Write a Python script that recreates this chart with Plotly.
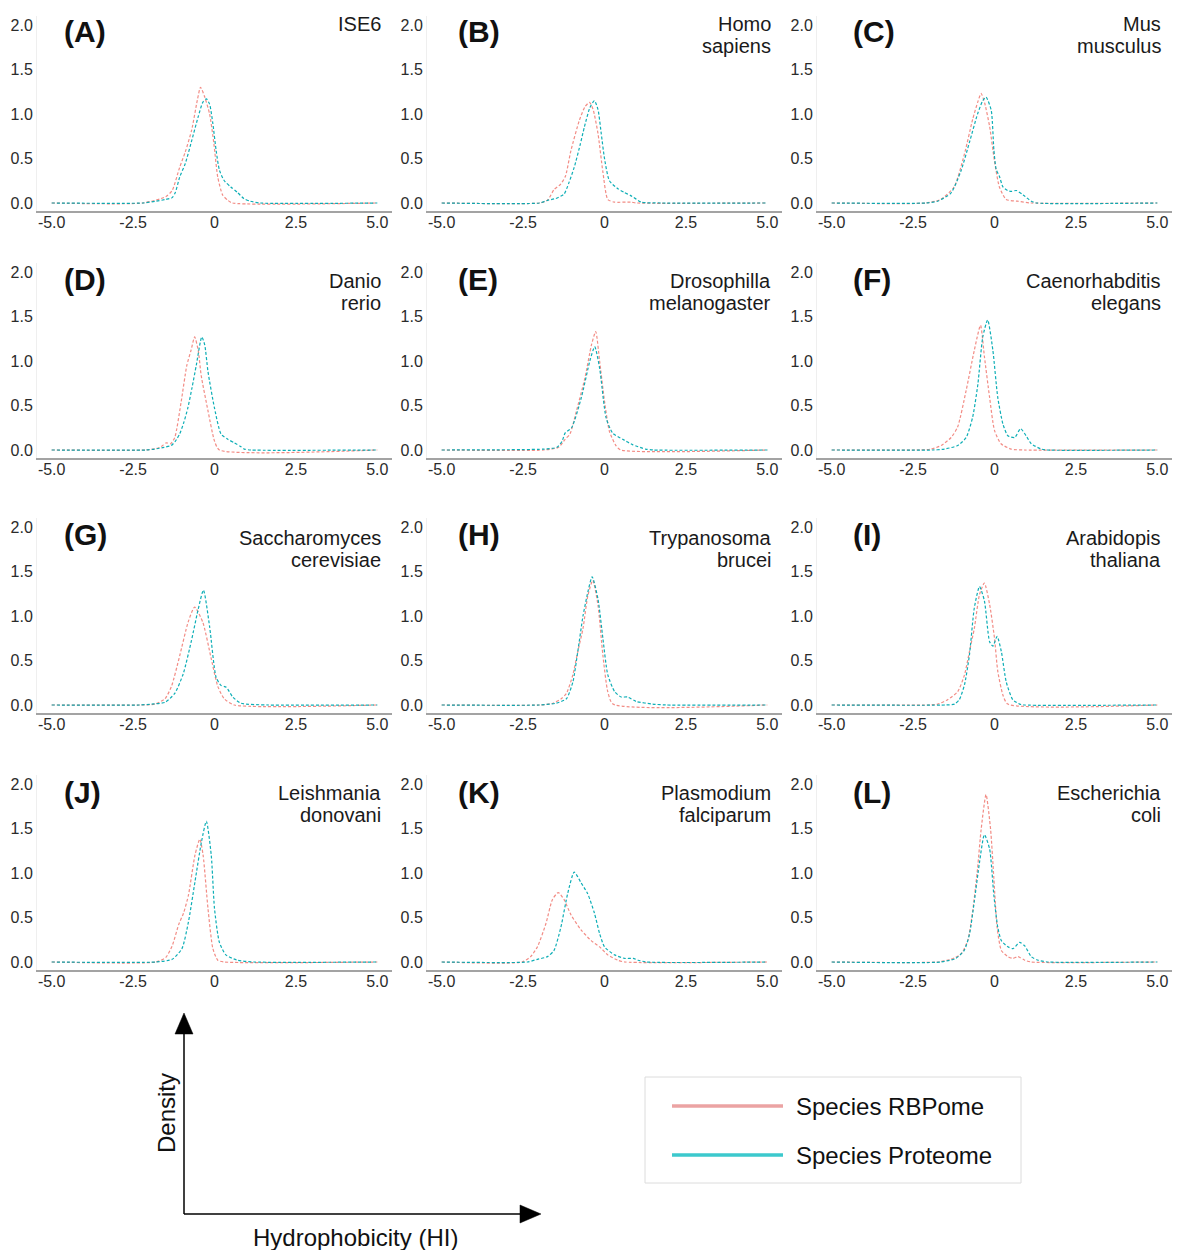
import plotly.graph_objects as go

# ---------------------------------------------------------------------------
# Density of the hydrophobicity index (HI) per species:
# RNA-binding proteome (RBPome) vs. whole proteome.
# ---------------------------------------------------------------------------
PANEL_TAGS = ["(A)", "(B)", "(C)", "(D)", "(E)", "(F)",
              "(G)", "(H)", "(I)", "(J)", "(K)", "(L)"]

SPECIES = ["ISE6", "Homo sapiens", "Mus musculus",
           "Danio rerio", "Drosophilla melanogaster", "Caenorhabditis elegans",
           "Saccharomyces cerevisiae", "Trypanosoma brucei", "Arabidopis thaliana",
           "Leishmania donovani", "Plasmodium falciparum", "Escherichia coli"]

X_TICKS = [-5.0, -2.5, 0.0, 2.5, 5.0]
X_TICK_TEXT = ["-5.0", "-2.5", "0", "2.5", "5.0"]
Y_TICKS = [0.0, 0.5, 1.0, 1.5, 2.0]
Y_TICK_TEXT = ["0.0", "0.5", "1.0", "1.5", "2.0"]

SERIES_NAMES = ["Species RBPome", "Species Proteome"]

# HI values and densities of the RBPome curves (one list per panel, A..L)
RBPOME_HI = [
    [-5, -2.2, -1.5, -1.3, -1.07, -0.9, -0.7, -0.53, -0.43, -0.3, -0.15, -0.02, 0.1, 0.25, 0.41, 0.55, 5],
    [-5, -2.0, -1.75, -1.55, -1.35, -1.2, -1.03, -0.77, -0.6, -0.46, -0.35, -0.2, -0.05, 0.1, 0.3, 0.8, 1.0, 5],
    [-5, -2.1, -1.65, -1.24, -0.93, -0.67, -0.5, -0.41, -0.3, -0.15, 0.0, 0.15, 0.36, 0.7, 1.13, 5],
    [-5, -2.1, -1.75, -1.63, -1.48, -1.35, -1.22, -1.02, -0.85, -0.72, -0.61, -0.5, -0.41, -0.2, 0.0, 0.15, 5],
    [-5, -1.87, -1.41, -1.21, -1.06, -0.86, -0.6, -0.4, -0.27, -0.15, 0.0, 0.15, 0.35, 0.5, 5],
    [-5, -2.4, -1.95, -1.64, -1.33, -1.13, -0.87, -0.62, -0.43, -0.31, -0.15, 0.0, 0.2, 0.51, 0.92, 5],
    [-5, -2.3, -1.83, -1.52, -1.32, -1.07, -0.81, -0.61, -0.36, -0.1, 0.1, 0.3, 0.61, 5],
    [-5, -2.0, -1.58, -1.33, -1.17, -0.97, -0.82, -0.66, -0.51, -0.36, -0.2, -0.05, 0.1, 0.26, 5],
    [-5, -2.05, -1.74, -1.44, -1.13, -0.92, -0.77, -0.62, -0.46, -0.31, -0.15, 0.0, 0.1, 0.26, 0.41, 5],
    [-5, -1.8, -1.5, -1.3, -1.1, -0.95, -0.8, -0.6, -0.45, -0.35, -0.2, -0.05, 0.1, 0.3, 5],
    [-5, -2.53, -2.27, -2.06, -1.8, -1.6, -1.42, -1.24, -1.03, -0.72, -0.41, -0.15, 0.1, 0.41, 0.62, 5],
    [-5, -1.75, -1.34, -1.03, -0.82, -0.67, -0.52, -0.41, -0.26, -0.12, -0.02, 0.08, 0.21, 0.41, 0.57, 0.72, 0.93, 1.13, 5],
]
RBPOME_DENSITY = [
    [0, 0, 0.07, 0.14, 0.40, 0.57, 0.82, 1.15, 1.30, 1.19, 1.00, 0.67, 0.29, 0.09, 0.03, 0, 0],
    [0, 0, 0.03, 0.15, 0.21, 0.30, 0.59, 0.93, 1.08, 1.13, 1.05, 0.78, 0.35, 0.04, 0.01, 0.01, 0, 0],
    [0, 0, 0.04, 0.18, 0.54, 0.94, 1.15, 1.23, 1.12, 0.86, 0.47, 0.18, 0.04, 0.02, 0, 0],
    [0, 0, 0.02, 0.04, 0.08, 0.07, 0.14, 0.55, 0.95, 1.12, 1.27, 1.12, 0.84, 0.44, 0.10, 0, 0],
    [0, 0, 0.03, 0.12, 0.18, 0.44, 0.81, 1.18, 1.33, 1.00, 0.55, 0.21, 0.05, 0, 0],
    [0, 0, 0.01, 0.05, 0.14, 0.26, 0.67, 1.12, 1.40, 1.05, 0.59, 0.22, 0.07, 0.01, 0, 0],
    [0, 0, 0.01, 0.07, 0.21, 0.55, 0.93, 1.10, 0.93, 0.52, 0.21, 0.07, 0, 0],
    [0, 0, 0.02, 0.07, 0.13, 0.34, 0.60, 0.86, 1.23, 1.40, 1.12, 0.56, 0.15, 0.01, 0],
    [0, 0, 0.01, 0.06, 0.15, 0.34, 0.60, 0.86, 1.24, 1.37, 1.13, 0.75, 0.38, 0.11, 0.01, 0],
    [0, 0, 0.05, 0.18, 0.42, 0.55, 0.75, 1.20, 1.38, 1.20, 0.60, 0.15, 0.02, 0, 0],
    [0, 0, 0.06, 0.17, 0.43, 0.70, 0.78, 0.70, 0.53, 0.36, 0.24, 0.17, 0.08, 0.02, 0, 0],
    [0, 0, 0.03, 0.09, 0.24, 0.57, 1.05, 1.49, 1.88, 1.49, 0.94, 0.39, 0.13, 0.06, 0.04, 0.06, 0.02, 0, 0],
]

# HI values and densities of the whole-proteome curves (one list per panel, A..L)
PROTEOME_HI = [
    [-5, -2.2, -1.8, -1.5, -1.3, -1.2, -1.07, -0.9, -0.7, -0.5, -0.36, -0.25, -0.15, -0.05, 0.05, 0.15, 0.3, 0.5, 0.7, 0.9, 1.1, 1.4, 5],
    [-5, -2.0, -1.75, -1.5, -1.24, -1.1, -0.93, -0.75, -0.62, -0.45, -0.31, -0.2, -0.1, 0.0, 0.15, 0.41, 0.6, 0.82, 1.13, 1.75, 5],
    [-5, -2.1, -1.75, -1.34, -1.03, -0.77, -0.52, -0.36, -0.26, -0.1, -0.02, 0.05, 0.15, 0.26, 0.4, 0.52, 0.67, 0.88, 1.13, 1.3, 5],
    [-5, -2.1, -1.84, -1.55, -1.33, -1.2, -1.07, -0.95, -0.82, -0.69, -0.56, -0.39, -0.3, -0.2, 0.0, 0.2, 0.41, 0.61, 0.8, 0.92, 1.12, 5],
    [-5, -1.87, -1.46, -1.3, -1.21, -1.01, -0.71, -0.45, -0.3, -0.15, 0.05, 0.25, 0.56, 0.86, 1.26, 1.5, 5],
    [-5, -1.9, -1.54, -1.13, -0.87, -0.67, -0.51, -0.36, -0.21, -0.05, 0.1, 0.26, 0.41, 0.62, 0.8, 0.97, 1.13, 1.44, 1.6, 5],
    [-5, -2.3, -1.93, -1.52, -1.22, -0.96, -0.71, -0.51, -0.34, -0.15, 0.05, 0.2, 0.36, 0.56, 0.81, 1.65, 5],
    [-5, -2.0, -1.48, -1.17, -0.97, -0.82, -0.66, -0.51, -0.38, -0.2, -0.05, 0.1, 0.31, 0.51, 0.71, 0.97, 1.48, 1.9, 5],
    [-5, -1.5, -1.23, -1.08, -0.92, -0.77, -0.62, -0.46, -0.31, -0.15, -0.05, 0.08, 0.21, 0.36, 0.56, 0.77, 0.92, 5],
    [-5, -1.8, -1.3, -1.0, -0.8, -0.6, -0.4, -0.25, -0.1, 0.0, 0.15, 0.35, 0.7, 1.2, 5],
    [-5, -2.37, -2.06, -1.75, -1.55, -1.34, -1.13, -0.93, -0.72, -0.52, -0.31, -0.15, 0.0, 0.31, 0.62, 0.88, 1.03, 1.29, 5],
    [-5, -1.65, -1.19, -0.93, -0.77, -0.62, -0.46, -0.31, -0.15, -0.02, 0.1, 0.21, 0.41, 0.57, 0.77, 0.93, 1.13, 1.34, 1.65, 5],
]
PROTEOME_DENSITY = [
    [0, 0, 0.02, 0.04, 0.06, 0.12, 0.29, 0.44, 0.70, 0.97, 1.13, 1.17, 1.11, 0.89, 0.59, 0.37, 0.25, 0.18, 0.12, 0.05, 0.02, 0, 0],
    [0, 0, 0.03, 0.05, 0.10, 0.22, 0.40, 0.65, 0.85, 1.07, 1.15, 1.05, 0.78, 0.50, 0.25, 0.16, 0.12, 0.08, 0.01, 0, 0],
    [0, 0, 0.02, 0.11, 0.36, 0.68, 1.00, 1.15, 1.19, 1.04, 0.60, 0.38, 0.30, 0.18, 0.14, 0.13, 0.14, 0.09, 0.02, 0, 0],
    [0, 0, 0.01, 0.03, 0.05, 0.10, 0.18, 0.30, 0.47, 0.70, 0.95, 1.27, 1.18, 0.88, 0.47, 0.18, 0.12, 0.08, 0.04, 0.01, 0, 0],
    [0, 0.01, 0.03, 0.10, 0.19, 0.25, 0.59, 1.00, 1.16, 0.92, 0.36, 0.19, 0.12, 0.06, 0.01, 0, 0],
    [0, 0, 0.01, 0.05, 0.14, 0.37, 0.74, 1.27, 1.46, 1.12, 0.59, 0.29, 0.16, 0.14, 0.24, 0.16, 0.07, 0.01, 0, 0],
    [0, 0, 0.01, 0.03, 0.13, 0.35, 0.72, 1.06, 1.29, 0.88, 0.31, 0.22, 0.20, 0.09, 0.02, 0, 0],
    [0, 0, 0.02, 0.07, 0.26, 0.60, 1.00, 1.27, 1.44, 1.19, 0.75, 0.34, 0.15, 0.09, 0.09, 0.04, 0.01, 0, 0],
    [0, 0, 0.01, 0.06, 0.23, 0.56, 1.09, 1.33, 1.17, 0.71, 0.66, 0.77, 0.60, 0.26, 0.06, 0.01, 0, 0],
    [0, 0, 0.03, 0.15, 0.45, 0.90, 1.35, 1.58, 1.20, 0.60, 0.22, 0.08, 0.02, 0, 0],
    [0, 0, 0.03, 0.06, 0.13, 0.39, 0.77, 1.01, 0.89, 0.77, 0.55, 0.32, 0.17, 0.08, 0.04, 0.04, 0.02, 0, 0],
    [0, 0, 0.04, 0.13, 0.31, 0.68, 1.12, 1.43, 1.27, 0.75, 0.39, 0.24, 0.17, 0.15, 0.22, 0.18, 0.06, 0.02, 0, 0],
]

# ---------------------------------------------------------------------------
W, H = 1188, 1250
FONT = "Liberation Sans, Arial, sans-serif"
RBP_LINE = "rgba(240,120,112,0.85)"
PROT_LINE = "rgba(0,170,178,0.95)"
RBP_KEY = "#EBA3A3"
PROT_KEY = "#3CC9CD"

COL_PX = [(37, 392), (427, 782), (817, 1172)]     # left/right of each column
ROW_PX = [(16, 211), (263, 458), (518, 713), (775, 970)]  # top/bottom of each row
TAG_LEFT_PX = [62, 456, 851]
TAG_Y_PX = [31, 280, 534, 792]
NAME_Y_PX = [24, 281, 538, 793]
NAME_LINE_GAP = 22


def px(x):
    return x / W


def py(y):
    return 1 - y / H


fig = go.Figure()
layout = {}
annotations = []

for i in range(12):
    r, c = divmod(i, 3)
    n = "" if i == 0 else str(i + 1)
    xl, xr = COL_PX[c]
    yt, yb = ROW_PX[r]

    for hi, dens, color in ((RBPOME_HI[i], RBPOME_DENSITY[i], RBP_LINE),
                            (PROTEOME_HI[i], PROTEOME_DENSITY[i], PROT_LINE)):
        fig.add_trace(go.Scatter(
            x=hi, y=dens, mode="lines",
            line=dict(color=color, width=1.2, dash="3px,2px", shape="spline", smoothing=0.6),
            xaxis="x" + n, yaxis="y" + n, showlegend=False, hoverinfo="skip"))

    layout["xaxis" + n] = dict(
        domain=[px(xl), px(xr)], anchor="y" + n, range=[-5.45, 5.45],
        showline=True, linecolor="#a3a3a3", linewidth=1.5,
        showgrid=False, zeroline=False, ticks="", ticklabelstandoff=-4,
        tickvals=X_TICKS, ticktext=X_TICK_TEXT,
        tickfont=dict(family=FONT, size=16, color="#2b2b2b"))
    layout["yaxis" + n] = dict(
        domain=[py(yb), py(yt)], anchor="x" + n, range=[-0.09, 2.1],
        showline=True, linecolor="#efefef", linewidth=1,
        showgrid=False, zeroline=False, ticks="",
        tickvals=Y_TICKS, ticktext=Y_TICK_TEXT,
        tickfont=dict(family=FONT, size=16, color="#2b2b2b"))

    annotations.append(dict(
        text="<b>%s</b>" % PANEL_TAGS[i], xref="paper", yref="paper",
        x=px(TAG_LEFT_PX[c]), y=py(TAG_Y_PX[r]), xanchor="left", yanchor="middle",
        showarrow=False, font=dict(family=FONT, size=30, color="#111111")))
    # species name, one word per line, right-aligned in the panel corner
    for k, word in enumerate(SPECIES[i].split(" ")):
        annotations.append(dict(
            text=word, xref="paper", yref="paper",
            x=px(xr - 9), y=py(NAME_Y_PX[r] + k * NAME_LINE_GAP),
            xanchor="right", yanchor="middle",
            showarrow=False, font=dict(family=FONT, size=20, color="#1a1a1a")))

# key box
shapes = [
    dict(type="rect", xref="paper", yref="paper", x0=px(645), x1=px(1021), y0=py(1077), y1=py(1183),
         line=dict(color="#dcdcdc", width=1), fillcolor="white"),
    dict(type="line", xref="paper", yref="paper", x0=px(672), x1=px(783), y0=py(1106), y1=py(1106),
         line=dict(color=RBP_KEY, width=3.5)),
    dict(type="line", xref="paper", yref="paper", x0=px(672), x1=px(783), y0=py(1155), y1=py(1155),
         line=dict(color=PROT_KEY, width=3.5)),
]
for name, yk in zip(SERIES_NAMES, (1106, 1155)):
    annotations.append(dict(
        text=name, xref="paper", yref="paper", x=px(794), y=py(yk),
        xanchor="left", yanchor="middle", showarrow=False,
        font=dict(family=FONT, size=24, color="#111111")))

# axis-meaning arrows
shapes += [
    dict(type="line", xref="paper", yref="paper", x0=px(184), x1=px(184), y0=py(1214), y1=py(1032),
         line=dict(color="black", width=1.5)),
    dict(type="line", xref="paper", yref="paper", x0=px(184), x1=px(522), y0=py(1214), y1=py(1214),
         line=dict(color="black", width=1.5)),
    dict(type="path", xref="paper", yref="paper",
         path="M %f,%f L %f,%f L %f,%f Z" % (px(175), py(1034), px(193), py(1034), px(184), py(1013)),
         fillcolor="black", line=dict(color="black", width=0.5)),
    dict(type="path", xref="paper", yref="paper",
         path="M %f,%f L %f,%f L %f,%f Z" % (px(520), py(1205), px(520), py(1223), px(541), py(1214)),
         fillcolor="black", line=dict(color="black", width=0.5)),
]
annotations.append(dict(
    text="Density", xref="paper", yref="paper", x=px(166), y=py(1113),
    xanchor="center", yanchor="middle", textangle=-90, showarrow=False,
    font=dict(family=FONT, size=24, color="#111111")))
annotations.append(dict(
    text="Hydrophobicity (HI)", xref="paper", yref="paper", x=px(355), y=py(1237),
    xanchor="center", yanchor="middle", showarrow=False,
    font=dict(family=FONT, size=24, color="#111111")))

fig.update_layout(
    width=W, height=H, margin=dict(l=0, r=0, t=0, b=0),
    paper_bgcolor="white", plot_bgcolor="white",
    font=dict(family=FONT), showlegend=False,
    annotations=annotations, shapes=shapes, **layout)

fig.write_html("out.html")
